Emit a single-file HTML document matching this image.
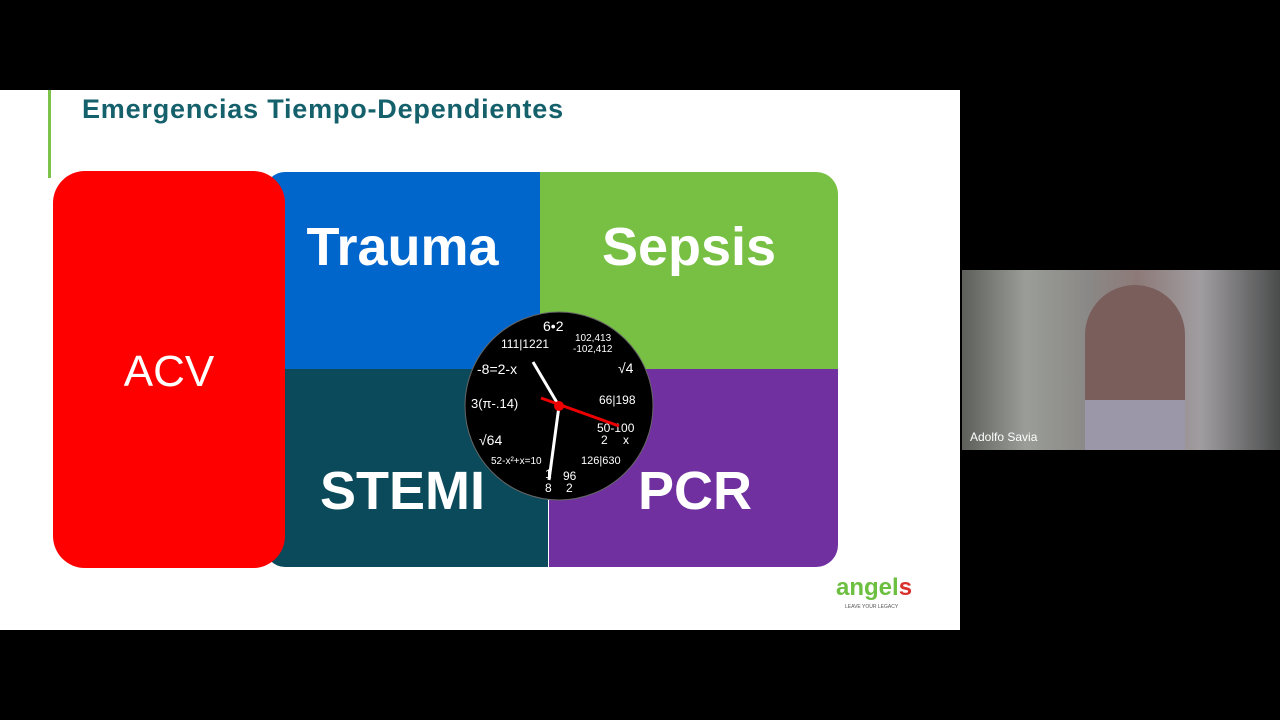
<!DOCTYPE html>
<html><head><meta charset="utf-8"><style>
body{margin:0;width:1280px;height:720px;background:#000;position:relative;overflow:hidden;font-family:"Liberation Sans",sans-serif}
.a{position:absolute}
.t{color:#fff;font-weight:bold;text-align:center}
</style></head><body>
<div class="a" style="left:0;top:90px;width:960px;height:540px;background:#fff"></div>
<div class="a" style="left:48px;top:90px;width:3px;height:88px;background:#7dc24b"></div>
<div class="a" style="left:82px;top:94px;font-size:27px;font-weight:bold;color:#14606b;letter-spacing:0.8px">Emergencias Tiempo-Dependientes</div>
<div class="a" style="left:265px;top:172px;width:275px;height:197px;background:#0066cc;border-top-left-radius:20px"></div>
<div class="a" style="left:540px;top:172px;width:298px;height:197px;background:#77c043;border-top-right-radius:22px"></div>
<div class="a" style="left:265px;top:369px;width:283px;height:198px;background:#0b4a5a;border-bottom-left-radius:20px"></div>
<div class="a" style="left:549px;top:369px;width:289px;height:198px;background:#7030a0;border-bottom-right-radius:22px"></div>
<div class="a" style="left:53px;top:171px;width:232px;height:397px;background:#ff0000;border-radius:32px"></div>
<div class="a" style="left:53px;top:347px;width:232px;font-size:44px;color:#fff;text-align:center">ACV</div>
<div class="a t" style="left:265px;top:216px;width:275px;font-size:54px">Trauma</div>
<div class="a t" style="left:540px;top:216px;width:298px;font-size:54px">Sepsis</div>
<div class="a t" style="left:265px;top:460px;width:275px;font-size:54px">STEMI</div>
<div class="a t" style="left:600px;top:460px;width:190px;font-size:54px">PCR</div>
<svg class="a" style="left:463px;top:310px" width="192" height="192" viewBox="0 0 192 192">
<circle cx="96" cy="96" r="94" fill="#000" stroke="#666" stroke-width="1"/>
<g fill="#fff" font-family="Liberation Sans,sans-serif" font-size="12">
<text x="80" y="21" font-size="14">6•2</text>
<text x="38" y="38">111|1221</text>
<text x="112" y="31" font-size="10">102,413</text>
<text x="110" y="42" font-size="10">-102,412</text>
<text x="14" y="64" font-size="14">-8=2-x</text>
<text x="155" y="63" font-size="14">√4</text>
<text x="8" y="98" font-size="13">3(π-.14)</text>
<text x="136" y="94">66|198</text>
<text x="134" y="122">50-100</text>
<text x="138" y="134">2</text><text x="160" y="134">x</text>
<text x="16" y="135" font-size="14">√64</text>
<text x="28" y="154" font-size="10">52-x²+x=10</text>
<text x="118" y="154" font-size="11">126|630</text>
<text x="82" y="168">1</text><text x="82" y="182">8</text>
<text x="100" y="170">96</text><text x="103" y="182">2</text>
</g>
<line x1="96" y1="96" x2="70" y2="52" stroke="#fff" stroke-width="3"/>
<line x1="96" y1="96" x2="86" y2="170" stroke="#fff" stroke-width="3"/>
<line x1="78" y1="88" x2="156" y2="116" stroke="#e00" stroke-width="3"/>
<circle cx="96" cy="96" r="5" fill="#e00"/>
</svg>
<div class="a" style="left:836px;top:574px;font-size:24px;font-weight:bold;color:#6cbf3f">angel<span style="color:#d9302b">s</span></div>
<div class="a" style="left:845px;top:604px;font-size:5px;color:#555">LEAVE YOUR LEGACY</div>
<div class="a" style="left:962px;top:270px;width:318px;height:180px;background:linear-gradient(90deg,#5d605a 0%,#9a9d98 20%,#8a8886 40%,#8d7a78 55%,#a09da0 75%,#4a4c4c 100%)"></div>
<div class="a" style="left:1085px;top:285px;width:100px;height:165px;background:#7a5e5c;border-radius:50px 50px 10px 10px"></div>
<div class="a" style="left:1085px;top:400px;width:100px;height:50px;background:#9c97a8"></div>
<div class="a" style="left:970px;top:430px;font-size:12px;color:#fff">Adolfo Savia</div>
</body></html>
